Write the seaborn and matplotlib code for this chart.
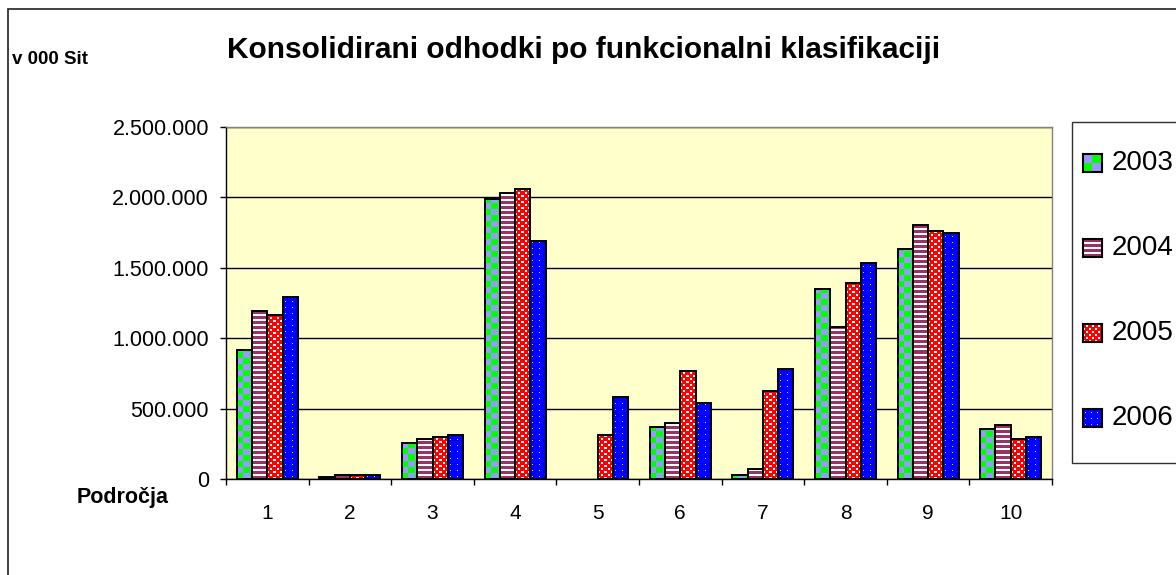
import numpy as np
import pandas as pd
import matplotlib
matplotlib.use("Agg")
import matplotlib.pyplot as plt
from matplotlib.patches import Rectangle
from matplotlib.ticker import FuncFormatter, MultipleLocator, FixedLocator
import seaborn as sns

# ---- data -------------------------------------------------------------
regions = ["1", "2", "3", "4", "5", "6", "7", "8", "9", "10"]
years = ["2003", "2004", "2005", "2006"]
v2003 = [918000, 12000, 258000, 1986000, 0, 369000, 26000, 1347000, 1633000, 355000]
v2004 = [1193000, 28000, 284000, 2031000, 0, 395000, 71000, 1077000, 1804000, 384000]
v2005 = [1165000, 28000, 298000, 2057000, 312000, 767000, 623000, 1392000, 1761000, 282000]
v2006 = [1293000, 28000, 315000, 1690000, 585000, 537000, 781000, 1532000, 1747000, 300000]

title = "Konsolidirani odhodki po funkcionalni klasifikaciji"
unit_label = "v 000 Sit"
cat_label = "Področja"

df = pd.DataFrame({
    "podrocje": regions * 4,
    "leto": [y for y in years for _ in regions],
    "vrednost": v2003 + v2004 + v2005 + v2006,
})

# ---- fill patterns ------------------------------------------------------
GREEN = np.array([0.0, 1.0, 0.0])
LAVENDER = np.array([0.6, 0.6, 1.0])
MAROON = np.array([0.6, 0.2, 0.4])
WHITE = np.array([1.0, 1.0, 1.0])
RED = np.array([1.0, 0.0, 0.0])
BLUE = np.array([0.0, 0.0, 1.0])
LIGHTBLUE = np.array([0.8, 0.8, 1.0])


def pattern(kind, ny, nx, cell=6):
    yy, xx = np.mgrid[0:ny, 0:nx]
    if kind == "checker":
        mask = ((yy // cell + xx // cell) % 2) == 0
        a, b = GREEN, LAVENDER
    elif kind == "stripes":
        mask = (yy % 5) < 3
        a, b = MAROON, WHITE
    elif kind == "smallchecker":
        mask = (((yy // 3 + xx // 3) % 2) == 0) & ((yy % 3) < 2) & ((xx % 3) < 2)
        a, b = WHITE, RED
    else:
        mask = ((yy % 6) == 2) & ((xx % 6) == 2)
        a, b = LIGHTBLUE, BLUE
    return np.where(mask[..., None], a, b)


kinds = {"2003": "checker", "2004": "stripes", "2005": "smallchecker", "2006": "dots"}
base_colors = {"2003": "#00ff00", "2004": "#993366", "2005": "#ff0000", "2006": "#0000ff"}

# ---- figure -------------------------------------------------------------
W, H = 1176, 575
fig = plt.figure(figsize=(W / 100, H / 100), dpi=100)
fig.patch.set_facecolor("white")


def fx(px):
    return px / W


def fy(py):
    return 1 - py / H


# outer chart frame
frame = Rectangle((fx(8), fy(700)), fx(1300), fy(9) - fy(700),
                  transform=fig.transFigure, fill=False,
                  edgecolor="#202020", linewidth=1.2, zorder=-2)
fig.patches.append(frame)

ax = fig.add_axes([fx(226), fy(479), fx(1052) - fx(226), fy(127) - fy(479)])
ax.set_facecolor("#ffffcc")

sns.barplot(data=df, x="podrocje", y="vrednost", hue="leto", order=regions,
            hue_order=years, palette=base_colors, width=0.74,
            edgecolor="black", linewidth=1.4, legend=False, ax=ax)

ax.set_xlim(-0.5, len(regions) - 0.5)
ax.set_ylim(0, 2500000)
ax.set_xlabel("")
ax.set_ylabel("")

ax.yaxis.set_major_locator(MultipleLocator(500000))
ax.yaxis.set_major_formatter(FuncFormatter(lambda v, p: f"{int(round(v)):,}".replace(",", ".")))
ax.set_axisbelow(True)
ax.yaxis.grid(True, color="black", linewidth=1.0)
ax.xaxis.grid(False)

ax.xaxis.set_minor_locator(FixedLocator(np.arange(-0.5, len(regions), 1.0)))
ax.tick_params(axis="x", which="major", length=0, pad=18, labelsize=15, labelcolor="black")
ax.tick_params(axis="x", which="minor", length=4, width=1, color="black", direction="out")
ax.tick_params(axis="y", which="major", length=4.3, width=1, color="black", direction="out",
               pad=8, labelsize=15.5, labelcolor="black")
for lab in ax.get_xticklabels() + ax.get_yticklabels():
    lab.set_fontfamily("Liberation Sans")

for side in ["top", "right"]:
    ax.spines[side].set_color("#808080")
    ax.spines[side].set_linewidth(1.0)
for side in ["left", "bottom"]:
    ax.spines[side].set_color("black")
    ax.spines[side].set_linewidth(1.0)

# fill each bar with its year's pattern, sized to the bar in screen pixels
for year, container in zip(years, ax.containers):
    for bar in container.patches:
        h = bar.get_height()
        if h <= 0:
            bar.set_visible(False)
            continue
        x0, x1 = bar.get_x(), bar.get_x() + bar.get_width()
        (px0, py0), (px1, py1) = ax.transData.transform([(x0, 0), (x1, h)])
        nx = max(1, int(round(px1 - px0)))
        ny = max(1, int(round(py1 - py0)))
        img = pattern(kinds[year], ny, nx)
        ax.imshow(img, extent=(x0, x1, 0, h), origin="lower", aspect="auto",
                  interpolation="nearest", zorder=2)
        bar.set_facecolor("none")
        bar.set_zorder(3)

ax.set_xlim(-0.5, len(regions) - 0.5)
ax.set_ylim(0, 2500000)

# ---- texts ----------------------------------------------------------------
fig.text(fx(584), fy(58), title, ha="center", va="baseline", fontsize=21.5,
         fontweight="bold", family="Liberation Sans")
fig.text(fx(12), fy(64), unit_label, ha="left", va="baseline", fontsize=13.5,
         fontweight="bold", family="Liberation Sans")
fig.text(fx(77), fy(503), cat_label, ha="left", va="baseline", fontsize=15.5,
         fontweight="bold", family="Liberation Sans")

# ---- legend ---------------------------------------------------------------
legend_box = Rectangle((fx(1072), fy(463)), fx(200), fy(122) - fy(463),
                       transform=fig.transFigure, facecolor="white",
                       edgecolor="#303030", linewidth=1.0, zorder=-1)
fig.patches.append(legend_box)
legend_y = [163, 248, 333, 418]
for year, cy in zip(years, legend_y):
    mk = fig.add_axes([fx(1083), fy(cy + 9), fx(19), fy(cy - 9) - fy(cy + 9)])
    mk.set_zorder(5)
    mk.imshow(pattern(kinds[year], 18, 19, cell=9), origin="lower", aspect="auto",
              interpolation="nearest")
    mk.set_xticks([])
    mk.set_yticks([])
    for s in mk.spines.values():
        s.set_color("black")
        s.set_linewidth(1.5)
    fig.text(fx(1112), fy(cy), year, ha="left", va="center", fontsize=20,
             family="Liberation Sans")

fig.savefig("out.png", dpi=100)
